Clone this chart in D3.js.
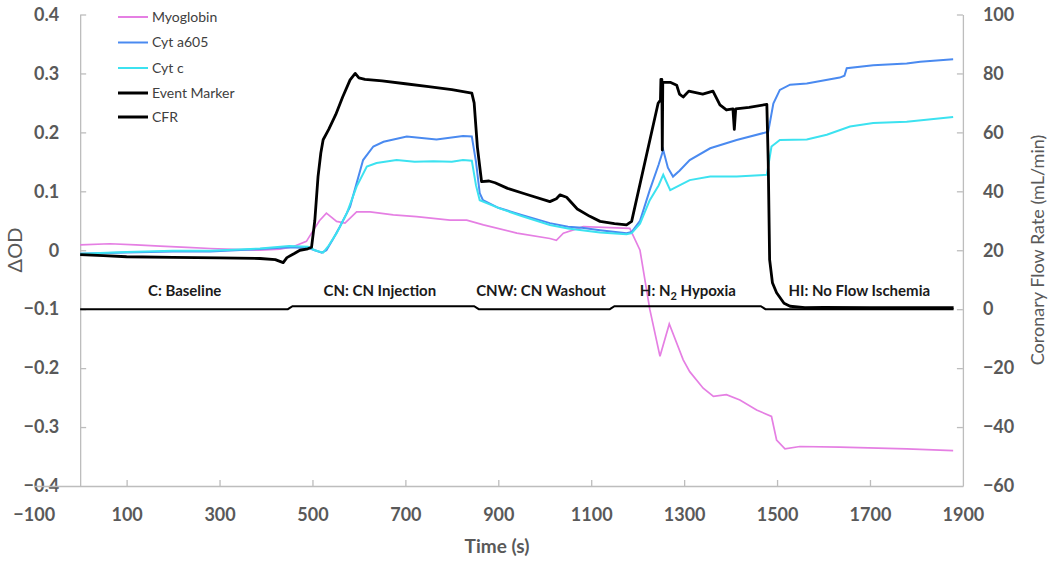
<!DOCTYPE html>
<html>
<head>
<meta charset="utf-8">
<script src="https://cdn.jsdelivr.net/npm/d3@7"></script>
<style>
  html, body { margin: 0; padding: 0; background: #fff; }
  svg { display: block; font-family: Lato, "Open Sans", sans-serif; }
</style>
</head>
<body>
<svg id="chart" width="1050" height="564"></svg>
<script>
// ---------- DATA ----------
const seriesNames = ["Myoglobin", "Cyt a605", "Cyt c", "Event Marker", "CFR"];

// Left axis (ΔOD) series: [time (s), value]
const myoglobin = [
  [0,0.009],[64,0.011],[120,0.009],[172,0.007],[230,0.005],[280,0.003],[387,0.0],[430,0.002],
  [458,0.006],[487,0.015],[498,0.029],[515,0.05],[530,0.063],[552,0.049],[570,0.046],[595,0.065],
  [624,0.065],[674,0.06],[724,0.057],[796,0.051],[832,0.051],[868,0.043],[940,0.029],[1011,0.02],
  [1025,0.017],[1040,0.029],[1083,0.04],[1183,0.037],[1205,0.0],[1226,-0.1],[1248,-0.18],
  [1268,-0.125],[1298,-0.186],[1312,-0.206],[1341,-0.234],[1363,-0.248],[1391,-0.245],
  [1420,-0.254],[1456,-0.271],[1488,-0.282],[1499,-0.322],[1517,-0.337],[1549,-0.333],
  [1635,-0.334],[1779,-0.337],[1879,-0.34]
];
const cytA605 = [
  [0,-0.006],[100,-0.004],[200,-0.002],[280,-0.002],[387,0.002],[450,0.005],[490,0.004],
  [505,0.0],[520,-0.004],[530,0.0],[545,0.02],[559,0.04],[581,0.074],[609,0.153],[631,0.176],
  [653,0.184],[703,0.193],[767,0.188],[824,0.194],[843,0.193],[852,0.15],[860,0.097],[867,0.085],
  [900,0.072],[950,0.06],[1011,0.046],[1050,0.04],[1080,0.038],[1119,0.034],[1176,0.029],
  [1187,0.031],[1205,0.05],[1226,0.102],[1245,0.145],[1255,0.17],[1265,0.14],[1276,0.125],
  [1290,0.135],[1312,0.153],[1356,0.173],[1413,0.187],[1481,0.201],[1492,0.249],[1506,0.272],
  [1528,0.281],[1564,0.283],[1635,0.293],[1645,0.296],[1650,0.309],[1707,0.314],[1779,0.317],
  [1808,0.32],[1879,0.324]
];
const cytC = [
  [0,-0.006],[100,-0.003],[200,-0.001],[280,-0.001],[387,0.003],[450,0.007],[490,0.006],
  [505,0.0],[523,-0.004],[535,0.008],[552,0.029],[574,0.063],[595,0.108],[617,0.142],[638,0.148],
  [681,0.153],[720,0.15],[760,0.151],[800,0.15],[824,0.153],[843,0.152],[852,0.11],[860,0.085],
  [903,0.071],[950,0.058],[1011,0.043],[1050,0.037],[1119,0.03],[1176,0.027],[1187,0.029],
  [1205,0.045],[1226,0.085],[1245,0.11],[1255,0.128],[1270,0.102],[1290,0.11],[1312,0.119],
  [1356,0.125],[1413,0.125],[1478,0.128],[1488,0.176],[1506,0.187],[1564,0.188],[1607,0.196],
  [1657,0.21],[1707,0.216],[1779,0.218],[1879,0.226]
];

// Right axis (Coronary Flow Rate, mL/min) series
const eventMarker = [
  [0,0],[447,0],[457,1],[848,1],[858,0],[1140,0],[1150,1],[1465,1],[1475,0],[1880,0]
];
const cfr = [
  [0,18.5],[50,18.2],[100,17.8],[200,17.6],[300,17.4],[387,17.2],[420,16.8],[437,15.8],[445,17.5],
  [460,18.8],[473,20],[490,20.5],[498,21],[505,30],[512,45],[518,53],[523,57.5],[535,61],[550,66],
  [565,72],[581,77.8],[592,80],[600,78.5],[613,78],[650,77.5],[700,76.5],[750,75.5],[800,74.5],
  [843,73.3],[848,70],[855,55],[864,43.3],[880,43.5],[893,42.9],[920,41],[960,39],[1011,36.5],
  [1025,37.5],[1033,38.8],[1047,38],[1070,34],[1097,31.5],[1119,29.8],[1150,29],[1176,28.6],
  [1187,29.8],[1244,69.9],[1249,71],[1250,78],[1252,78],[1253,54],[1254,77],
  [1270,77],[1284,76],[1290,73],[1298,72],[1310,74],[1340,73],[1362,74],[1377,69.3],[1391,67.6],
  [1405,68],[1408,61],[1411,68],[1440,68.5],[1478,69.5],[1481,50],[1484,16.8],[1490,9],
  [1499,5.6],[1515,2],[1528,1],[1560,0.5],[1600,0.6],[1700,0.5],[1800,0.5],[1880,0.5]
];

const xTicks = [-100,100,300,500,700,900,1100,1300,1500,1700,1900];
const yLeftTicks = [-0.4,-0.3,-0.2,-0.1,0,0.1,0.2,0.3,0.4];
const yRightTicks = [-60,-40,-20,0,20,40,60,80,100];

const phaseLabels = ["C: Baseline", "CN: CN Injection", "CNW: CN Washout", "H: N|2| Hypoxia", "HI: No Flow Ischemia"];
const phaseTimes = [225, 645, 992, 1308, 1677];

// ---------- LAYOUT ----------
const svg = d3.select("#chart");
const x = d3.scaleLinear([-100, 1900], [33.7, 962.9]);
const yL = d3.scaleLinear([-0.4, 0.4], [486, 14.5]);
const yR = d3.scaleLinear([-60, 100], [486, 14.5]);

const axisColor = "#bdbdbd";
const labelColor = "#595959";

// Left axis
const gL = svg.append("g").attr("transform", `translate(${x(0)},0)`)
  .call(d3.axisLeft(yL).tickValues(yLeftTicks).tickSizeInner(-6).tickSizeOuter(0).tickPadding(21)
    .tickFormat(d => d3.format(".1f")(d).replace("0.0","0")));
// Right axis
const gR = svg.append("g").attr("transform", `translate(${x(1900)},0)`)
  .call(d3.axisRight(yR).tickValues(yRightTicks).tickSizeInner(-6).tickSizeOuter(0).tickPadding(20));
// Bottom axis
const gB = svg.append("g").attr("transform", `translate(0,${yL(-0.4)})`)
  .call(d3.axisBottom(x).tickValues(xTicks).tickSizeInner(-6).tickSizeOuter(0).tickPadding(22)
    .tickFormat(d3.format("d")));
gB.selectAll(".tick line").filter(d => d === -100 || d === 1900).remove();
gL.selectAll(".tick line").filter(d => d === -0.4).remove();
gR.selectAll(".tick line").filter(d => d === -60).remove();

[gL, gR, gB].forEach(g => {
  g.select(".domain").attr("stroke", axisColor).attr("stroke-width", 1.3);
  g.selectAll(".tick line").attr("stroke", axisColor).attr("stroke-width", 1.3);
  g.selectAll(".tick text").attr("fill", labelColor).style("font-size", "18px")
    .style("font-weight", "bold").style("font-family", "Lato, sans-serif");
});

// ---------- SERIES ----------
const lineL = d3.line().x(d => x(d[0])).y(d => yL(d[1]));
const lineR = d3.line().x(d => x(d[0])).y(d => yR(d[1]));

const colors = { myo: "#e57fe3", a605: "#4a8af0", cytc: "#3ce2f0", black: "#000" };

svg.append("path").datum(myoglobin).attr("d", lineL).attr("fill", "none")
  .attr("stroke", colors.myo).attr("stroke-width", 1.7);
svg.append("path").datum(cytA605).attr("d", lineL).attr("fill", "none")
  .attr("stroke", colors.a605).attr("stroke-width", 2);
svg.append("path").datum(cytC).attr("d", lineL).attr("fill", "none")
  .attr("stroke", colors.cytc).attr("stroke-width", 2);
svg.append("path").datum(eventMarker).attr("d", lineR).attr("fill", "none")
  .attr("stroke", colors.black).attr("stroke-width", 2);
svg.append("path").datum(cfr).attr("d", lineR).attr("fill", "none")
  .attr("stroke", colors.black).attr("stroke-width", 2.8).attr("stroke-linejoin", "round");

// ---------- PHASE LABELS ----------
phaseLabels.forEach((lab, i) => {
  const t = svg.append("text").attr("x", x(phaseTimes[i])).attr("y", 296)
    .attr("text-anchor", "middle").attr("fill", "#1a1a1a")
    .style("font-size", "15px").style("font-weight", "bold");
  const parts = lab.split("|");
  if (parts.length === 1) { t.text(lab); }
  else {
    t.append("tspan").text(parts[0]);
    t.append("tspan").text(parts[1]).attr("dy", 4).style("font-size", "11px");
    t.append("tspan").text(parts[2]).attr("dy", -4);
  }
});

// ---------- LEGEND ----------
const legendColors = [colors.myo, colors.a605, colors.cytc, "#000", "#000"];
const legendWidths = [2, 2, 2, 3, 3];
const legendY = [17, 42.5, 68, 93, 117];
seriesNames.forEach((n, i) => {
  svg.append("line").attr("x1", 118).attr("x2", 148).attr("y1", legendY[i]).attr("y2", legendY[i])
    .attr("stroke", legendColors[i]).attr("stroke-width", legendWidths[i]);
  svg.append("text").attr("x", 152).attr("y", legendY[i]).attr("dy", "0.35em")
    .attr("fill", "#404040").style("font-size", "14px").text(n);
});

// ---------- AXIS TITLES ----------
svg.append("text").attr("transform", "translate(22,250) rotate(-90)").attr("text-anchor", "middle")
  .attr("fill", labelColor).style("font-size", "20px").text("ΔOD");
svg.append("text").attr("transform", "translate(1044,250) rotate(-90)").attr("text-anchor", "middle")
  .attr("fill", labelColor).style("font-size", "18px").text("Coronary Flow Rate (mL/min)");
svg.append("text").attr("x", 497).attr("y", 553).attr("text-anchor", "middle")
  .attr("fill", labelColor).style("font-size", "19px").style("font-weight", "bold").text("Time (s)");
</script>
</body>
</html>
